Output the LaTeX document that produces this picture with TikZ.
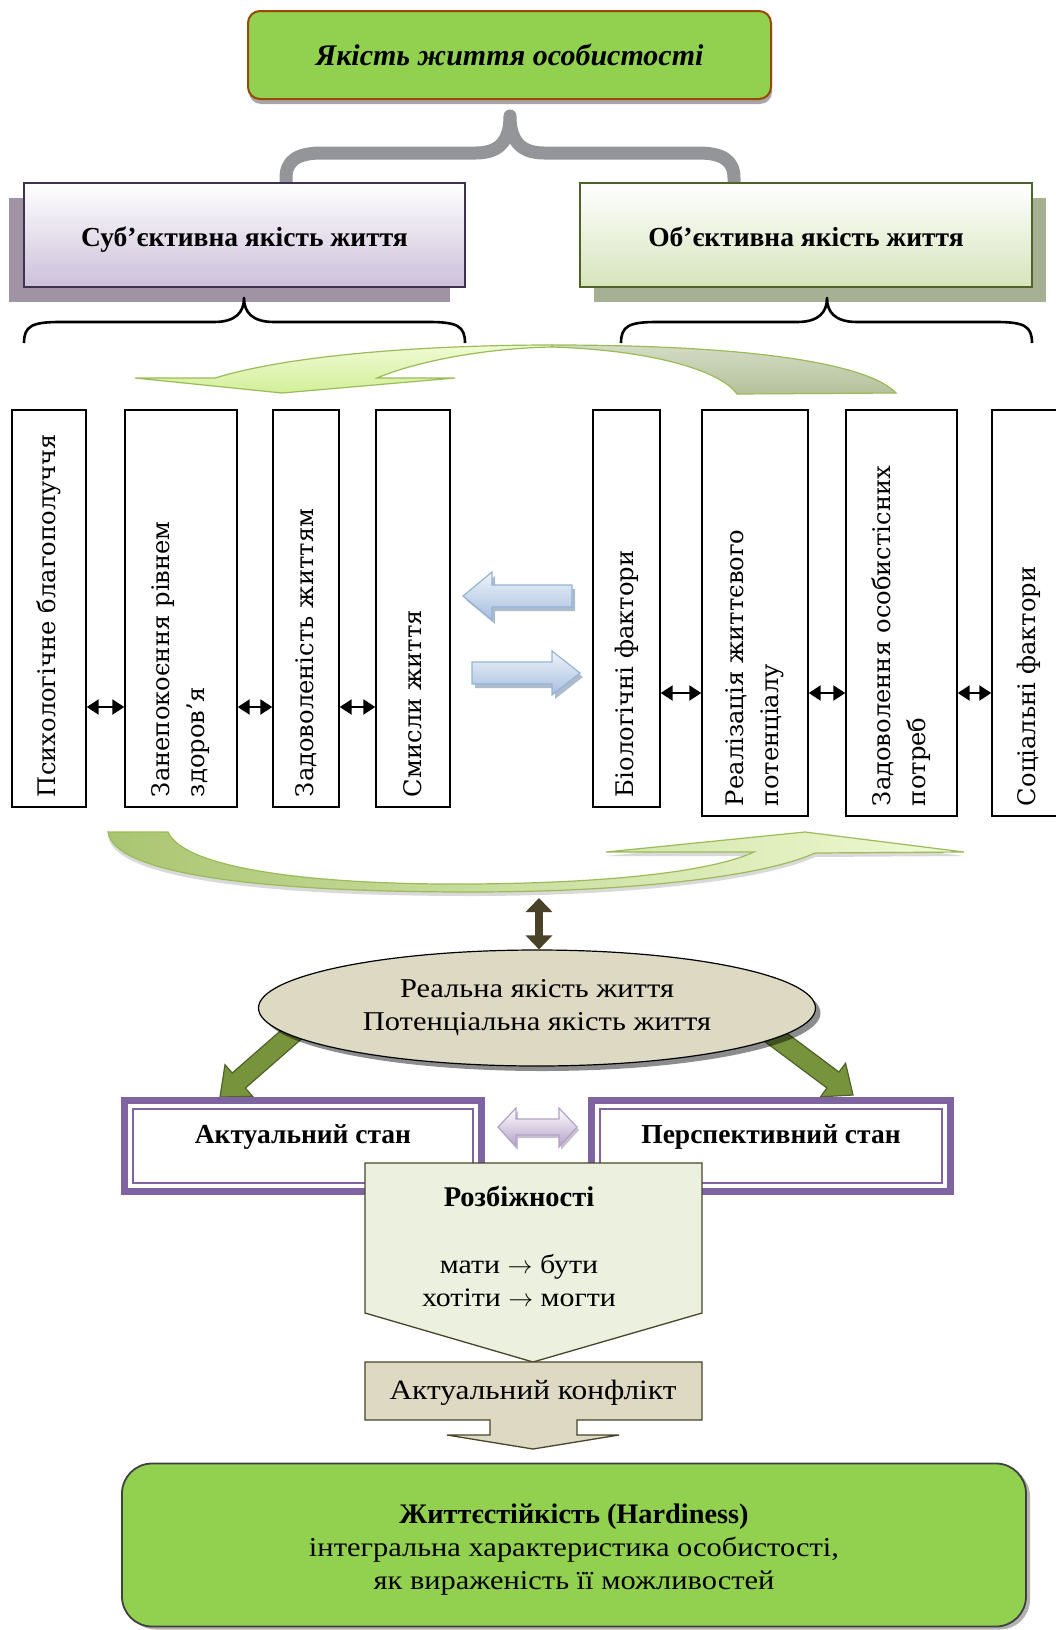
\documentclass[tikz,border=0pt]{standalone}
\usepackage{fontspec}
\setmainfont{Liberation Serif}
\newfontfamily\widefont{Liberation Serif}[FakeStretch=1.12]
\newfontfamily\vertfont{DejaVu Serif}
\usetikzlibrary{calc,shapes.geometric,arrows.meta,shadows,backgrounds}
\definecolor{titlegreen}{HTML}{92D050}
\definecolor{titlerim}{HTML}{984807}
\definecolor{bracegray}{HTML}{939598}
\definecolor{subjrim}{HTML}{3F3151}
\definecolor{subjfill}{HTML}{CCC0DA}
\definecolor{subjshadow}{HTML}{9F93A4}
\definecolor{objrim}{HTML}{4F6228}
\definecolor{objfill}{HTML}{D7E4BC}
\definecolor{objshadow}{HTML}{A6B193}
\definecolor{arrowrim}{HTML}{9BBB59}
\definecolor{frontlight}{HTML}{F0FBD4}
\definecolor{frontdark}{HTML}{D2EF98}
\definecolor{backlight}{HTML}{D4DCC4}
\definecolor{backdark}{HTML}{B4C19C}
\definecolor{bluetop}{HTML}{EEF3FA}
\definecolor{bluebottom}{HTML}{A7BFDE}
\definecolor{bluerim}{HTML}{95B3D7}
\definecolor{sandfill}{HTML}{DDD9C3}
\definecolor{olivearrow}{HTML}{77933C}
\definecolor{statepurple}{HTML}{8064A2}
\definecolor{lilac}{HTML}{B3A2C7}
\definecolor{palegreen}{HTML}{EBF1DE}
\definecolor{darkolive}{HTML}{494429}
\definecolor{brownarrow}{HTML}{4A4228}
\newcommand{\blockarrow}[6]{%
  \coordinate (ba-head) at ($(#3)!#6!(#2)$);
  \draw[#1] ($(#2)!#4!90:(#3)$) -- ($(ba-head)!#4!90:(#3)$)
    -- ($(ba-head)!#5!90:(#3)$) -- (#3)
    -- ($(ba-head)!#5!-90:(#3)$) -- ($(ba-head)!#4!-90:(#3)$)
    -- ($(#2)!#4!-90:(#3)$) -- cycle;}

\begin{document}
\begin{tikzpicture}[x=1pt, y=-1pt,
    every node/.style={inner sep=0pt},
    titlebox/.style={draw=titlerim, line width=2pt, fill=titlegreen, rounded corners=12pt,
      drop shadow={shadow xshift=1pt, shadow yshift=-5pt, fill=black, opacity=0.35},
      font=\fontsize{30pt}{36pt}\selectfont\bfseries\itshape},
    kindbox/.style={line width=1.6pt, minimum height=104pt, text height=27pt, text depth=5pt,
      font=\fontsize{27.5pt}{32pt}\selectfont\bfseries},
    curlyline/.style={line width=2.6pt, line join=round},
    vbox/.style={draw, line width=1.4pt, rotate=90, inner xsep=10pt, inner ysep=0pt, align=left,
      font=\vertfont\fontsize{24.2pt}{35pt}\selectfont},
    pairarrow/.style={{Triangle[length=12pt,width=15pt]}-{Triangle[length=12pt,width=15pt]}, line width=2.2pt},
    bluearrow/.style={draw=bluerim, line width=1.2pt, top color=bluetop, bottom color=bluebottom,
      drop shadow={shadow xshift=3pt, shadow yshift=-4pt, fill=bluerim!80!black, opacity=0.6}},
    greenarrow/.style={draw=objrim, line width=1.2pt, fill=olivearrow},
    statebox/.style={draw=statepurple, line width=7pt, fill=white, minimum height=91pt,
      text height=14pt, text depth=20pt, font=\fontsize{27.5pt}{32pt}\selectfont\bfseries,
      path picture={\draw[statepurple, line width=2pt]
        ([shift={(8.5pt,-8.5pt)}]path picture bounding box.north west) rectangle
        ([shift={(-8.5pt,8.5pt)}]path picture bounding box.south east);}},
    plain/.style={align=center, font=\widefont\fontsize{27.2pt}{33pt}\selectfont},
  ]
  \useasboundingbox (0,0) rectangle (1056,1630);

  \node[titlebox, minimum width=523pt, minimum height=88pt] (title) at (509.5,55) {Якість життя особистості};

  % grey brace under the title
  \draw[bracegray, line width=13pt, line join=round]
    (286,186) -- (286,178) .. controls (286,160) and (298,153) .. (322,153) -- (476,153)
    .. controls (500,153) and (510,140) .. (510,116) .. controls (510,140) and (520,153) .. (544,153)
    -- (698,153) .. controls (722,153) and (734,160) .. (734,178) -- (734,186);

  \node[kindbox, draw=subjrim, top color=white, bottom color=subjfill, minimum width=441pt,
    drop shadow={shadow xshift=-15pt, shadow yshift=-15pt, fill=subjshadow, opacity=1}]
    (subj) at (244.5,235) {Суб’єктивна якість життя};
  \node[kindbox, draw=objrim, top color=white, bottom color=objfill, minimum width=452pt,
    drop shadow={shadow xshift=14pt, shadow yshift=-15pt, fill=objshadow, opacity=1}]
    (obj) at (806,235) {Об’єктивна якість життя};

  \foreach \l/\m/\r in {24/244/465, 621/827/1032}
    \draw[curlyline] (\l,343) .. controls (\l,326) and ({\l+8},322) .. ({\l+36},322) -- ({\m-30},322)
      .. controls ({\m-8},322) and (\m,312) .. (\m,298) .. controls (\m,312) and ({\m+8},322) .. ({\m+30},322)
      -- ({\r-36},322) .. controls ({\r-8},322) and (\r,326) .. (\r,343);

  % curved arrow over the columns
  \draw[draw=arrowrim, line width=1.2pt, top color=backlight, bottom color=backdark]
    (552,345) .. controls (760,345) and (870,365) .. (896,393) -- (737,394)
    .. controls (720,370) and (650,350) .. (552,347) -- cycle;
  \draw[draw=arrowrim, line width=1.2pt, top color=frontlight, bottom color=frontdark]
    (552,345) .. controls (450,345) and (300,352) .. (215,378) -- (135,378) -- (282,393) -- (455,378)
    -- (377,378) .. controls (420,360) and (490,348) .. (552,347) -- cycle;

  \foreach \name/\xc/\w/\h/\tw/\yc/\txt in {
      psy/49/74/397/377/608.5/{Психологічне благополуччя},
      health/181/112/397/377/608.5/{Занепокоєння рівнем\\здоров’я},
      content/306/66/397/377/608.5/{Задоволеність життям},
      sense/413/74/397/377/608.5/{Смисли життя},
      bio/626.5/67/397/377/608.5/{Біологічні фактори},
      potent/755/106/406/386/613/{Реалізація життєвого\\потенціалу},
      needs/901.5/111/406/386/613/{Задоволення особистісних\\потреб},
      social/1029/74/406/386/613/{Соціальні фактори}}
    \node[vbox, minimum width=\h pt, minimum height=\w pt, text width=\tw pt] (\name) at (\xc,\yc) {\txt};

  \coordinate (rowleft) at (0,707);
  \coordinate (rowright) at (0,693);
  \foreach \a/\b in {psy/health, health/content, content/sense}
    \draw[pairarrow] (\a.south |- rowleft) -- (\b.north |- rowleft);
  \foreach \a/\b in {bio/potent, potent/needs, needs/social}
    \draw[pairarrow] (\a.south |- rowright) -- (\b.north |- rowright);

  \blockarrow{bluearrow}{572,596}{463,596}{11pt}{24pt}{29pt}
  \blockarrow{bluearrow}{472,673}{580,673}{11pt}{22pt}{28pt}

  % curved arrow under the columns
  \draw[draw=arrowrim, line width=1.2pt, left color=arrowrim!85!white, right color=frontlight,
    drop shadow={shadow xshift=0pt, shadow yshift=-4pt, fill=black, opacity=0.15}]
    (108,832) -- (168,832) .. controls (185,870) and (320,885) .. (470,884)
    .. controls (620,883) and (715,870) .. (754,852) -- (606,852) -- (805,832) -- (964,852)
    -- (815,853) .. controls (760,878) and (620,892) .. (471,892)
    .. controls (300,892) and (115,880) .. (108,832) -- cycle;

  \node[ellipse, draw, line width=1.2pt, fill=sandfill, minimum width=557pt, minimum height=116pt,
    plain, drop shadow={shadow xshift=5pt, shadow yshift=-5pt, fill=black, opacity=0.45}]
    (real) at (537,1008) {Реальна якість життя\\Потенціальна якість життя};
  \coordinate (lowarc) at (539,898);
  \draw[brownarrow, line width=8pt, {Triangle[length=14pt,width=26pt]}-{Triangle[length=14pt,width=26pt]}]
    (lowarc) -- (real.north -| lowarc);

  \begin{scope}[on background layer]
    \blockarrow{greenarrow}{300,1027}{220,1097}{10pt}{21pt}{25pt}
    \blockarrow{greenarrow}{766,1030}{853,1095}{10pt}{21pt}{25pt}
  \end{scope}

  \node[statebox, minimum width=357pt] (actual) at (303,1146) {Актуальний стан};
  \node[statebox, minimum width=359pt] (future) at (771,1146) {Перспективний стан};

  \draw[draw=lilac, line width=1.2pt, top color=white, bottom color=lilac,
    drop shadow={shadow xshift=2pt, shadow yshift=-3pt, fill=lilac!80!black, opacity=0.5}]
    (498,1127) -- (516,1108) -- (516,1119) -- (559,1119) -- (559,1108) -- (577,1127)
    -- (559,1147) -- (559,1135) -- (516,1135) -- (516,1147) -- cycle;

  \draw[draw=darkolive, line width=1.3pt, fill=palegreen]
    (365,1163) -- (702,1163) -- (702,1313) -- (533,1362) -- (365,1313) -- cycle;
  \node[font=\fontsize{28.5pt}{33pt}\selectfont\bfseries] (gaphead) at (519,1196) {Розбіжності};
  \node[plain, font=\widefont\fontsize{26.7pt}{33pt}\selectfont] (gaptext) at (519,1281)
    {мати $\rightarrow$ бути\\хотіти $\rightarrow$ могти};

  \draw[draw=darkolive, line width=1.3pt, fill=sandfill]
    (365,1362) -- (702,1362) -- (702,1420) -- (577,1420) -- (577,1435) -- (619,1435) -- (533,1449)
    -- (447,1435) -- (490,1435) -- (490,1420) -- (365,1420) -- cycle;
  \node[font=\widefont\fontsize{28pt}{33pt}\selectfont] (conflict) at (533,1393) {Актуальний конфлікт};

  \node[draw=black!75, line width=1.8pt, fill=titlegreen, rounded corners=30pt, minimum width=904pt,
    minimum height=163pt, drop shadow={shadow xshift=4pt, shadow yshift=-3pt, fill=black, opacity=0.3}]
    (hardy) at (574,1545) {};
  \node[plain] (hardytext) at ([yshift=-5pt]hardy.center)
    {{\fontsize{28.3pt}{33pt}\selectfont\normalfont\bfseries Життєстійкість (Hardiness)}\\
     інтегральна характеристика особистості,\\як вираженість її можливостей};
\end{tikzpicture}
\end{document}
